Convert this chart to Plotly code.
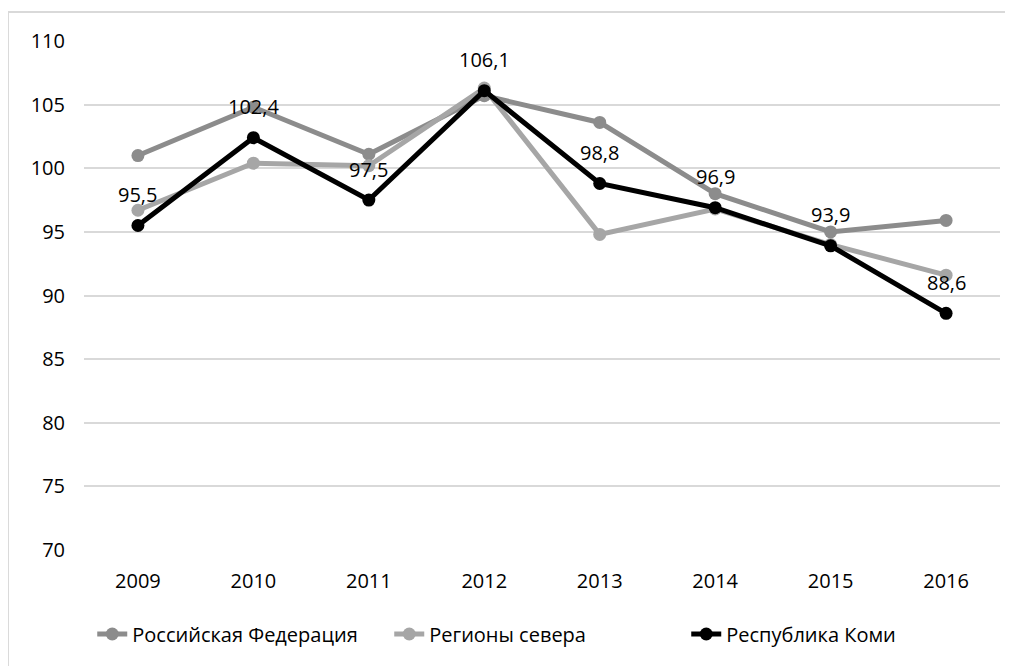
import plotly.graph_objects as go

years = ["2009", "2010", "2011", "2012", "2013", "2014", "2015", "2016"]
russia = [101.0, 104.8, 101.1, 105.7, 103.6, 98.0, 95.0, 95.9]
north = [96.7, 100.4, 100.2, 106.3, 94.8, 96.8, 94.0, 91.6]
komi = [95.5, 102.4, 97.5, 106.1, 98.8, 96.9, 93.9, 88.6]
komi_labels = ["95,5", "102,4", "97,5", "106,1", "98,8", "96,9", "93,9", "88,6"]

FONT = "Open Sans"

fig = go.Figure()
fig.add_trace(go.Scatter(
    x=years, y=russia, name="Российская Федерация", mode="lines+markers",
    line=dict(color="#8c8c8c", width=5), marker=dict(size=13, color="#8c8c8c"),
))
fig.add_trace(go.Scatter(
    x=years, y=north, name="Регионы севера", mode="lines+markers",
    line=dict(color="#a6a6a6", width=5), marker=dict(size=13, color="#a6a6a6"),
))
fig.add_trace(go.Scatter(
    x=years, y=komi, name="Республика Коми", mode="lines+markers",
    line=dict(color="#000000", width=5), marker=dict(size=13, color="#000000"),
))

# data labels for Komi (category axis: annotation x given as category index)
for i, (v, lab) in enumerate(zip(komi, komi_labels)):
    fig.add_annotation(x=i, y=v, text=lab, showarrow=False, yshift=31,
                       font=dict(family=FONT, size=20, color="#000000"))

# outer chart border (right and bottom edges run off the picture)
fig.add_shape(type="rect", xref="paper", yref="paper",
              x0=-0.083, x1=1.2, y0=-0.4, y1=1.057,
              line=dict(color="#d9d9d9", width=2), layer="below")

# page has an 8px body margin, so the figure starts at (8, 8)
fig.update_layout(
    width=1013, height=658,
    margin=dict(l=76, r=21, t=33, b=116),
    paper_bgcolor="white", plot_bgcolor="white",
    font=dict(family=FONT, size=20, color="#000000"),
    showlegend=True,
    legend=dict(orientation="h", x=0.009, xanchor="left", y=-0.165, yanchor="middle",
                font=dict(family=FONT, size=20), entrywidth=252, entrywidthmode="pixels",
                traceorder="normal"),
    xaxis=dict(type="category", showgrid=False, showline=False, zeroline=False,
               ticks="", ticklabelstandoff=17),
    yaxis=dict(range=[70, 110], dtick=5, showgrid=True, gridcolor="#d9d9d9",
               gridwidth=2, zeroline=False, showline=False, ticks="",
               ticklabelstandoff=18),
)

fig.write_html("out.html")
